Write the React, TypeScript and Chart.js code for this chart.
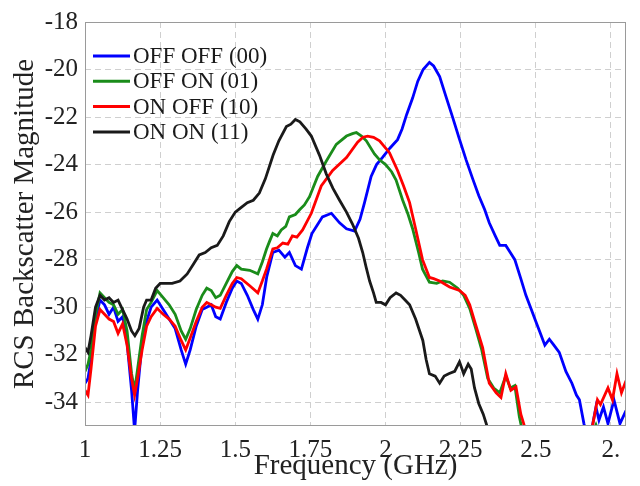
import React, { useEffect, useRef } from 'react';
import { Chart, registerables } from 'chart.js';

Chart.register(...registerables);

// ---------- data ----------
const seriesLabels = ['OFF OFF (00)', 'OFF ON (01)', 'ON OFF (10)', 'ON ON (11)'];
const seriesColors = ['#0000ff', '#1a8c1a', '#ff0000', '#1a1a1a'];

const freqOffOff = [1.0, 1.01, 1.02, 1.035, 1.05, 1.065, 1.08, 1.095, 1.11, 1.125, 1.14, 1.155, 1.165, 1.175, 1.19, 1.205, 1.22, 1.24, 1.26, 1.28, 1.3, 1.32, 1.335, 1.35, 1.37, 1.39, 1.405, 1.42, 1.435, 1.45, 1.47, 1.49, 1.505, 1.52, 1.54, 1.56, 1.575, 1.59, 1.605, 1.625, 1.645, 1.665, 1.68, 1.7, 1.72, 1.74, 1.755, 1.775, 1.79, 1.82, 1.847, 1.87, 1.897, 1.915, 1.93, 1.952, 1.97, 1.99, 2.015, 2.04, 2.055, 2.07, 2.09, 2.107, 2.125, 2.146, 2.16, 2.18, 2.2, 2.223, 2.245, 2.268, 2.29, 2.31, 2.33, 2.345, 2.365, 2.38, 2.4, 2.415, 2.43, 2.45, 2.467, 2.485, 2.5, 2.515, 2.53, 2.545, 2.56, 2.578, 2.6, 2.62, 2.635, 2.645, 2.66, 2.672, 2.685, 2.7, 2.71, 2.725, 2.74, 2.76, 2.78, 2.8];
const rcsOffOff = [-33.2, -33.0, -32.2, -30.5, -29.7, -29.9, -30.3, -30.0, -30.6, -30.4, -31.5, -33.5, -35.2, -33.5, -31.5, -30.6, -30.0, -29.7, -30.1, -30.5, -30.9, -31.8, -32.4, -31.8, -30.8, -30.1, -30.0, -29.9, -30.4, -30.5, -29.8, -29.2, -28.9, -29.0, -29.5, -30.1, -30.5, -29.9, -28.7, -27.7, -27.6, -27.9, -27.7, -28.25, -28.4, -27.5, -26.9, -26.5, -26.2, -26.05, -26.45, -26.7, -26.8, -26.3, -25.6, -24.5, -24.0, -23.7, -23.3, -22.95, -22.5, -21.9, -21.2, -20.5, -20.0, -19.7, -19.85, -20.3, -21.1, -22.0, -22.9, -23.8, -24.6, -25.3, -25.9, -26.45, -27.0, -27.4, -27.4, -27.7, -28.0, -28.8, -29.5, -30.1, -30.6, -31.1, -31.6, -31.35, -31.6, -31.9, -32.7, -33.2, -33.7, -33.9, -34.9, -35.5, -35.2, -34.2, -34.75, -34.2, -34.9, -33.9, -34.9, -34.35];

const freqOffOn = [1.0, 1.01, 1.02, 1.035, 1.05, 1.065, 1.08, 1.095, 1.11, 1.125, 1.14, 1.155, 1.165, 1.175, 1.19, 1.205, 1.22, 1.24, 1.26, 1.28, 1.3, 1.32, 1.335, 1.35, 1.37, 1.39, 1.405, 1.42, 1.435, 1.45, 1.47, 1.49, 1.505, 1.52, 1.548, 1.575, 1.59, 1.604, 1.615, 1.625, 1.64, 1.653, 1.668, 1.68, 1.7, 1.714, 1.73, 1.747, 1.774, 1.803, 1.836, 1.87, 1.89, 1.903, 1.92, 1.936, 1.963, 1.98, 2.0, 2.02, 2.035, 2.057, 2.075, 2.09, 2.11, 2.123, 2.146, 2.17, 2.19, 2.213, 2.24, 2.26, 2.28, 2.3, 2.32, 2.34, 2.36, 2.38, 2.4, 2.415, 2.43, 2.445, 2.46, 2.68, 2.7, 2.71];
const rcsOffOn = [-32.7, -32.4, -31.8, -30.3, -29.4, -29.6, -29.8, -29.9, -30.3, -30.1, -31.0, -32.8, -33.5, -32.6, -31.2, -30.1, -29.8, -29.3, -29.6, -29.9, -30.3, -31.0, -31.35, -30.9, -30.1, -29.5, -29.2, -29.3, -29.6, -29.5, -29.0, -28.5, -28.25, -28.4, -28.45, -28.6, -28.1, -27.55, -27.2, -26.9, -27.0, -26.75, -26.6, -26.2, -26.1, -25.9, -25.7, -25.35, -24.5, -23.85, -23.15, -22.8, -22.7, -22.65, -22.8, -23.0, -23.55, -23.8, -24.0, -24.3, -24.65, -25.5, -26.1, -26.7, -27.7, -28.4, -28.95, -29.0, -28.9, -28.95, -29.2, -29.5, -30.05, -30.9, -31.8, -33.0, -33.4, -33.6, -32.9, -33.4, -33.3, -34.6, -35.5, -35.5, -34.95, -35.3];

const freqOnOff = [1.0, 1.01, 1.02, 1.035, 1.05, 1.065, 1.08, 1.095, 1.11, 1.125, 1.14, 1.155, 1.165, 1.175, 1.19, 1.205, 1.22, 1.24, 1.26, 1.28, 1.3, 1.32, 1.335, 1.35, 1.37, 1.39, 1.405, 1.42, 1.435, 1.45, 1.47, 1.49, 1.505, 1.52, 1.548, 1.575, 1.59, 1.604, 1.625, 1.64, 1.658, 1.675, 1.69, 1.705, 1.724, 1.753, 1.786, 1.824, 1.87, 1.907, 1.925, 1.94, 1.96, 1.98, 2.013, 2.04, 2.06, 2.08, 2.1, 2.123, 2.146, 2.16, 2.18, 2.213, 2.246, 2.265, 2.28, 2.3, 2.323, 2.345, 2.368, 2.384, 2.4, 2.417, 2.434, 2.45, 2.462, 2.47, 2.68, 2.69, 2.705, 2.715, 2.74, 2.755, 2.77, 2.785, 2.8];
const rcsOnOff = [-33.5, -33.7, -32.6, -30.8, -30.1, -30.3, -30.5, -30.6, -31.1, -30.7, -31.6, -33.0, -33.7, -33.0, -31.8, -30.8, -30.4, -30.05, -30.3, -30.5, -30.8, -31.4, -31.8, -31.3, -30.6, -30.0, -29.8, -29.9, -30.0, -30.05, -29.5, -29.0, -28.75, -28.8, -29.1, -29.4, -28.9, -28.4, -27.55, -27.5, -27.3, -27.35, -27.0, -27.05, -26.75, -26.05, -24.9, -24.25, -23.7, -23.06, -22.85, -22.8, -22.85, -23.0, -23.5, -24.25, -24.9, -25.6, -26.7, -28.0, -28.75, -28.8, -28.9, -29.15, -29.3, -29.5, -29.9, -30.75, -31.7, -33.2, -33.6, -33.8, -32.8, -33.5, -33.35, -34.5, -35.0, -35.5, -35.5, -34.9, -33.9, -34.1, -33.4, -33.9, -32.8, -33.6, -33.1];

const freqOnOn = [1.0, 1.01, 1.02, 1.035, 1.05, 1.065, 1.08, 1.095, 1.11, 1.125, 1.14, 1.155, 1.166, 1.18, 1.195, 1.205, 1.22, 1.235, 1.25, 1.27, 1.29, 1.316, 1.34, 1.36, 1.38, 1.4, 1.42, 1.44, 1.46, 1.48, 1.5, 1.52, 1.54, 1.56, 1.58, 1.6, 1.626, 1.645, 1.67, 1.685, 1.7, 1.715, 1.735, 1.753, 1.78, 1.803, 1.825, 1.847, 1.87, 1.89, 1.91, 1.924, 1.935, 1.947, 1.96, 1.969, 1.985, 2.0, 2.015, 2.035, 2.05, 2.065, 2.08, 2.1, 2.124, 2.135, 2.146, 2.165, 2.18, 2.195, 2.21, 2.23, 2.246, 2.26, 2.275, 2.285, 2.296, 2.31, 2.325, 2.335, 2.35];
const rcsOnOn = [-31.7, -31.9, -31.2, -30.0, -29.5, -29.7, -29.6, -29.8, -29.7, -30.1, -30.5, -31.0, -31.2, -30.9, -30.0, -29.7, -29.7, -29.2, -29.0, -29.0, -29.0, -28.9, -28.6, -28.2, -27.8, -27.7, -27.5, -27.4, -27.0, -26.4, -26.0, -25.8, -25.6, -25.5, -25.2, -24.6, -23.6, -23.0, -22.4, -22.3, -22.1, -22.2, -22.5, -22.8, -23.6, -24.4, -25.0, -25.5, -26.0, -26.5, -27.1, -27.7, -28.3, -28.9, -29.4, -29.8, -29.8, -29.9, -29.6, -29.4, -29.5, -29.7, -29.9, -30.5, -31.4, -32.2, -32.8, -32.9, -33.2, -32.9, -32.8, -32.7, -32.3, -32.8, -32.4, -32.6, -33.4, -34.05, -34.5, -34.9, -35.6];

const xTickLabels: Record<string, string> = { '1': '1', '1.25': '1.25', '1.5': '1.5', '1.75': '1.75', '2': '2', '2.25': '2.25', '2.5': '2.5', '2.75': '2.' };

const xTitle = 'Frequency (GHz)';
const yTitle = 'RCS Backscatter Magnitude';

const FONT = '"Liberation Serif", "Times New Roman", Times, serif';

function pts(xs: number[], ys: number[]) {
  return xs.map((x, i) => ({ x, y: ys[i] }));
}

const frameAndLegend = {
  id: 'frameAndLegend',
  afterDatasetsDraw(chart: any) {
    const { ctx, chartArea: a } = chart;
    ctx.save();
    ctx.strokeStyle = '#9a9a9a';
    ctx.lineWidth = 1;
    ctx.setLineDash([]);
    ctx.strokeRect(a.left + 0.5, a.top + 0.5, a.right - a.left - 1, a.bottom - a.top - 1);
    ctx.font = `23px ${FONT}`;
    ctx.textBaseline = 'middle';
    ctx.textAlign = 'left';
    chart.data.datasets.forEach((ds: any, i: number) => {
      const y = a.top + 34 + i * 25.3;
      ctx.strokeStyle = ds.borderColor;
      ctx.lineWidth = 3;
      ctx.beginPath();
      ctx.moveTo(a.left + 8, y);
      ctx.lineTo(a.left + 45, y);
      ctx.stroke();
      ctx.fillStyle = '#1a1a1a';
      ctx.fillText(ds.label, a.left + 48, y + 1);
    });
    ctx.restore();
  },
};

export default function App() {
  const ref = useRef<HTMLCanvasElement>(null);

  useEffect(() => {
    document.body.style.margin = '0';
    const canvas = ref.current;
    if (!canvas) return;
    const series = [
      pts(freqOffOff, rcsOffOff),
      pts(freqOffOn, rcsOffOn),
      pts(freqOnOff, rcsOnOff),
      pts(freqOnOn, rcsOnOn),
    ];
    const chart = new Chart(canvas, {
      type: 'line',
      data: {
        datasets: series.map((d, i) => ({
          label: seriesLabels[i],
          data: d,
          borderColor: seriesColors[i],
          backgroundColor: seriesColors[i],
          borderWidth: 2.8,
          pointRadius: 0,
          tension: 0,
          fill: false,
          order: 3 - i,
        })),
      },
      options: {
        animation: false,
        responsive: false,
        devicePixelRatio: 1,
        parsing: false as any,
        layout: { padding: { left: 0, top: 16, right: 14, bottom: 0 } },
        plugins: { legend: { display: false }, tooltip: { enabled: false } },
        scales: {
          x: {
            type: 'linear',
            min: 1,
            max: 2.8,
            afterFit: (s: any) => { s.height = 60; },
            ticks: {
              stepSize: 0.25,
              includeBounds: false,
              padding: 9,
              color: '#222',
              font: { family: FONT, size: 25 },
              maxRotation: 0,
              autoSkip: false,
              callback: (v: any) => {
                const k = String(Math.round(Number(v) * 100) / 100);
                return xTickLabels[k] ?? '';
              },
            },
            grid: { color: '#cfcfcf', lineWidth: 1, drawTicks: false },
            border: { display: false, dash: [6, 4] },
            title: { display: true, text: xTitle, color: '#222', font: { family: FONT, size: 29 }, padding: { top: 0, bottom: 2 } },
          },
          y: {
            type: 'linear',
            min: -35,
            max: -18,
            afterFit: (s: any) => { s.width = 85; },
            ticks: {
              stepSize: 2,
              includeBounds: false,
              padding: 7,
              color: '#222',
              font: { family: FONT, size: 25 },
            },
            grid: { color: '#cfcfcf', lineWidth: 1, drawTicks: false },
            border: { display: false, dash: [6, 4] },
            title: { display: true, text: yTitle, color: '#222', font: { family: FONT, size: 29 }, padding: { top: 8, bottom: 0 } },
          },
        },
      },
      plugins: [frameAndLegend],
    } as any);
    return () => chart.destroy();
  }, []);

  return (
    <div style={{ width: 640, height: 486 }}>
      <canvas ref={ref} width={640} height={486} style={{ display: 'block' }} />
    </div>
  );
}
